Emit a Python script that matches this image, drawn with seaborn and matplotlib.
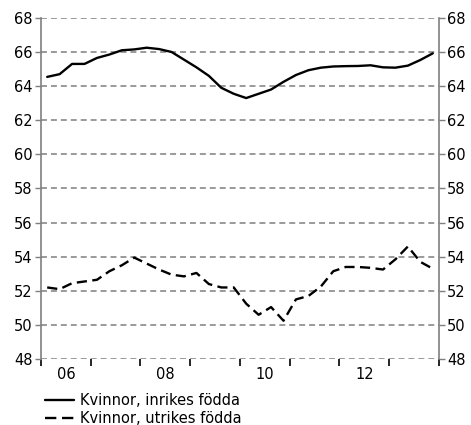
import matplotlib
matplotlib.use("Agg")
import matplotlib.pyplot as plt
import seaborn as sns
import pandas as pd
import numpy as np
from matplotlib.lines import Line2D

quarters = [f"{y}Q{q}" for y in range(2006, 2014) for q in range(1, 5)]
inrikes = [64.54, 64.7, 65.3, 65.3, 65.65, 65.85, 66.1, 66.15,
           66.25, 66.17, 66.0, 65.55, 65.1, 64.6, 63.9, 63.55,
           63.3, 63.55, 63.8, 64.25, 64.65, 64.93, 65.08, 65.15,
           65.17, 65.18, 65.22, 65.1, 65.08, 65.2, 65.53, 65.92]
utrikes = [52.2, 52.1, 52.45, 52.55, 52.65, 53.15, 53.5, 53.95,
           53.6, 53.25, 52.95, 52.85, 53.05, 52.4, 52.2, 52.2,
           51.25, 50.6, 51.05, 50.25, 51.5, 51.7, 52.25, 53.15,
           53.4, 53.4, 53.35, 53.25, 53.85, 54.6, 53.7, 53.3]
labels = ["Kvinnor, inrikes födda", "Kvinnor, utrikes födda"]
year_labels = ["06", "08", "10", "12"]
yticks = list(range(48, 70, 2))

sns.set_theme(style="white")
plt.rcParams['font.family'] = ['DejaVu Sans']
plt.rcParams['text.color'] = 'black'
plt.rcParams['xtick.color'] = 'black'
plt.rcParams['ytick.color'] = 'black'
plt.rcParams['xtick.labelcolor'] = 'black'
plt.rcParams['ytick.labelcolor'] = 'black'
fs = 10.5

xpos = [int(q[:4]) + (int(q[-1]) - 0.5) / 4 for q in quarters]
df = pd.DataFrame({"x": xpos, "inrikes": inrikes, "utrikes": utrikes})

fig = plt.figure(figsize=(4.71, 4.25), dpi=100)
ax = fig.add_axes([0.087, 0.155, 0.845, 0.803])

grid_col = "#7f7f7f"
for v in yticks:
    ax.axhline(v, color=grid_col, lw=1.1, dashes=(3.9, 2.6), zorder=1)

sns.lineplot(data=df, x="x", y="inrikes", ax=ax, color="black", lw=1.7, zorder=3)
sns.lineplot(data=df, x="x", y="utrikes", ax=ax, color="black", lw=1.7, zorder=3)
for ln in ax.lines:
    yd = np.asarray(ln.get_ydata(), dtype=float)
    if len(yd) == len(utrikes) and np.allclose(yd, utrikes):
        ln.set_linewidth(1.7)
        ln.set_dashes((4.3, 2.3))

ax.set_xlim(2006, 2014)
ax.set_ylim(48, 68)
ax.set_xlabel("")
ax.set_ylabel("")

ax.set_yticks(yticks)
ax.set_yticklabels([str(v) for v in yticks], fontsize=fs, color="black")
ax.tick_params(axis="y", which="both", left=True, right=True, labelleft=True,
               labelright=True, length=4, width=1, color=grid_col, pad=2,
               direction="out", labelcolor="black")

ax.set_xticks(list(range(2006, 2015)))
ax.set_xticklabels([])
ax.set_xticks([2006.5, 2008.5, 2010.5, 2012.5], minor=True)
ax.set_xticklabels(year_labels, minor=True, fontsize=fs, color="black")
ax.tick_params(axis="x", which="major", bottom=True, length=5, width=1.2,
               color="black", direction="out")
ax.tick_params(axis="x", which="minor", bottom=False, length=0, pad=6)

for s in ["top", "bottom"]:
    ax.spines[s].set_visible(False)
for s in ["left", "right"]:
    ax.spines[s].set_visible(True)
    ax.spines[s].set_color(grid_col)
    ax.spines[s].set_linewidth(1.2)

handles = [Line2D([0], [0], color="black", lw=1.7),
           Line2D([0], [0], color="black", lw=1.7, dashes=(4.8, 2.4))]
leg = fig.legend(handles, labels, loc="upper left", bbox_to_anchor=(0.095, 0.076),
                 frameon=False, fontsize=fs, handlelength=2.0, handletextpad=0.4,
                 labelspacing=0.25, borderaxespad=0, borderpad=0)
for t in leg.get_texts():
    t.set_color("black")

fig.savefig("out.png", dpi=100)
